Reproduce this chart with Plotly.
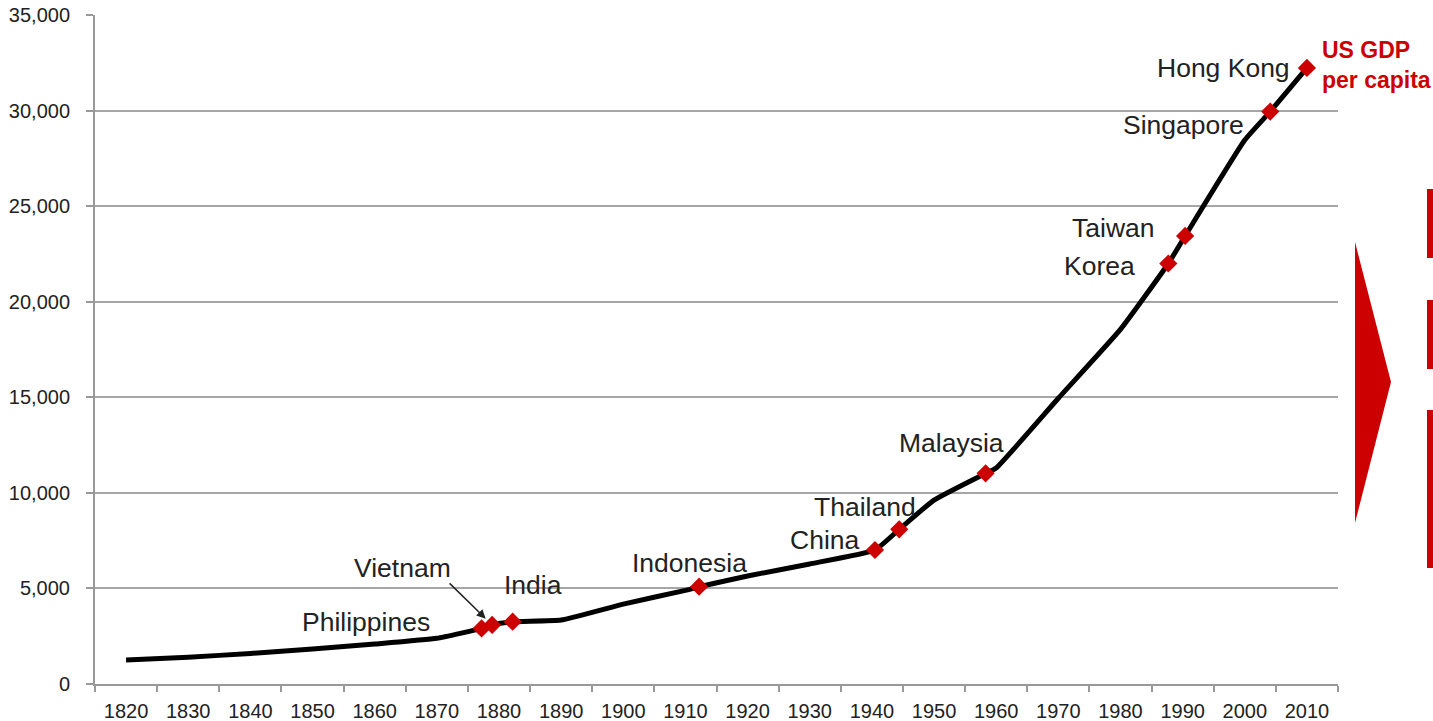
import plotly.graph_objects as go

# US GDP per capita by decade
decade_years = [1820, 1830, 1840, 1850, 1860, 1870, 1890, 1900, 1910, 1920,
                1930, 1950, 1960, 1970, 1980, 2000]
decade_values = [1260, 1400, 1600, 1830, 2090, 2390, 3350, 4180, 4900, 5650,
                 6280, 9620, 11300, 14950, 18550, 28460]

# Year at which the US reached each economy's current GDP per capita
marker_names = ["Philippines", "Vietnam", "India", "Indonesia", "China", "Thailand",
                "Malaysia", "Korea", "Taiwan", "Singapore", "Hong Kong"]
marker_years = [1877.2, 1878.9, 1882.2, 1912.2, 1940.5, 1944.4,
                1958.3, 1987.7, 1990.4, 2004.1, 2010.0]
marker_values = [2910, 3090, 3260, 5090, 7010, 8090,
                 11020, 22000, 23440, 29950, 32230]

tick_years = list(range(1820, 2011, 10))
y_ticks = list(range(0, 35001, 5000))

RED = "#CC0000"
TXT = "#222222"
FONT = "Liberation Sans, Arial, sans-serif"

# merged series for the curve
pts = sorted(zip(decade_years + marker_years, decade_values + marker_values))
line_x = [p[0] for p in pts]
line_y = [p[1] for p in pts]

fig = go.Figure()
fig.add_trace(go.Scatter(x=line_x, y=line_y, mode="lines",
                         line=dict(color="black", width=5, shape="spline", smoothing=0.4),
                         hoverinfo="skip", showlegend=False))
fig.add_trace(go.Scatter(x=marker_years, y=marker_values, mode="markers",
                         marker=dict(symbol="diamond", size=14, color=RED),
                         text=marker_names, showlegend=False))

# label placement: (xanchor, xshift, yshift) in pixels from each marker
label_pos = {
    "Philippines": ("right", -50, 6),
    "Vietnam": ("center", -90, 57),
    "India": ("left", -11, 37),
    "Indonesia": ("center", -10, 24),
    "China": ("right", -13, 10),
    "Thailand": ("right", 19, 22),
    "Malaysia": ("right", 20, 30),
    "Korea": ("right", -31, -3),
    "Taiwan": ("right", -28, 8),
    "Singapore": ("right", -24, -13),
    "Hong Kong": ("right", -15, 0),
}
for name, yr, val in zip(marker_names, marker_years, marker_values):
    xa, xs, ys = label_pos[name]
    fig.add_annotation(x=yr, y=val, text=name, showarrow=False,
                       xanchor=xa, yanchor="middle", xshift=xs, yshift=ys,
                       font=dict(family=FONT, size=26.5, color=TXT))

# arrow pointing at Vietnam
vi = marker_names.index("Vietnam")
fig.add_annotation(x=marker_years[vi], y=marker_values[vi], text="",
                   showarrow=True, ax=-44, ay=-43, axref="pixel", ayref="pixel",
                   arrowhead=2, arrowsize=1.2, arrowwidth=1.5, arrowcolor="#222222",
                   standoff=9)

# US label next to the latest point
hk = marker_names.index("Hong Kong")
fig.add_annotation(x=marker_years[hk], y=marker_values[hk],
                   text="<b>US GDP<br>per capita</b>", showarrow=False,
                   xanchor="left", yanchor="middle", xshift=13, yshift=3, align="left",
                   font=dict(family=FONT, size=23, color=RED))

# decorative red shapes at the right edge (pixel -> paper conversion)
L, R, T, B = 95, 95, 15, 37
W, H = 1433, 721
PW, PH = W - L - R, H - T - B


def px(x):
    return (x - L) / PW


def py(y):
    return (H - B - y) / PH


fig.add_shape(type="path", xref="paper", yref="paper",
              path=f"M {px(1355)} {py(242)} L {px(1391)} {py(382)} L {px(1355)} {py(523)} Z",
              fillcolor=RED, line=dict(width=0))
for y0, y1 in [(189, 258), (300, 369), (410, 568)]:
    fig.add_shape(type="rect", xref="paper", yref="paper",
                  x0=px(1427), x1=px(1440), y0=py(y1), y1=py(y0),
                  fillcolor=RED, line=dict(width=0))

fig.update_layout(
    width=W, height=H,
    margin=dict(l=L, r=R, t=T, b=B, pad=0, autoexpand=False),
    paper_bgcolor="white", plot_bgcolor="white",
    font=dict(family=FONT, color=TXT),
    showlegend=False,
)
fig.update_xaxes(range=[1815, 2015], tickvals=tick_years, ticktext=[str(t) for t in tick_years],
                 ticks="", showgrid=False, zeroline=False, automargin=False,
                 showline=True, linecolor="#999999", linewidth=2,
                 tickfont=dict(size=20, color=TXT), ticklabelstandoff=8,
                 minor=dict(tick0=1815, dtick=10, ticks="outside", ticklen=6,
                            tickcolor="#999999", tickwidth=2, showgrid=False))
fig.update_yaxes(range=[0, 35000], tickvals=y_ticks, tickformat=",", automargin=False,
                 ticks="outside", ticklen=7, tickcolor="#999999", tickwidth=2,
                 showgrid=True, gridcolor="#A6A6A6", gridwidth=1.5, zeroline=False,
                 showline=True, linecolor="#999999", linewidth=2,
                 tickfont=dict(size=20, color=TXT), ticklabelstandoff=12)

fig.write_html("out.html")
